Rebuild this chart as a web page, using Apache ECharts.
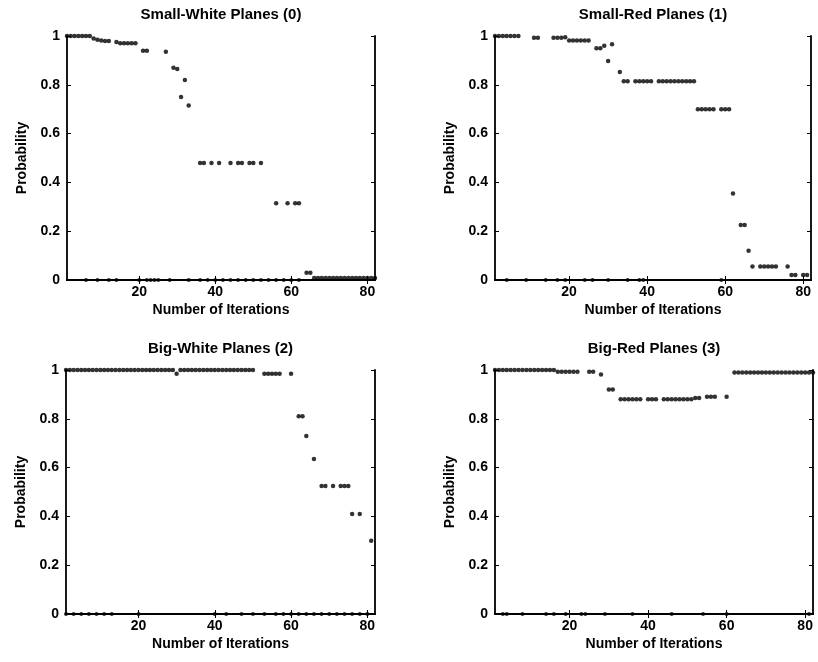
<!DOCTYPE html>
<html>
<head>
<meta charset="utf-8">
<script src="https://cdn.jsdelivr.net/npm/echarts@6/dist/echarts.min.js"></script>
<style>
  html, body { margin: 0; padding: 0; background: #fff; }
  #chart { width: 818px; height: 662px; }
</style>
</head>
<body>
<div id="chart"></div>
<script>
// panel titles
const titles = ['Small-White Planes (0)', 'Small-Red Planes (1)', 'Big-White Planes (2)', 'Big-Red Planes (3)']
const xTicks = [20, 40, 60, 80]

// Small-White (0)
const p0X = [1, 2, 3, 4, 5, 6, 7, 8, 9, 10, 11, 12, 14, 15, 16, 17, 18, 19, 21, 22, 27, 29, 30, 31, 32, 33,
  36, 37, 39, 41, 44, 46, 47, 49, 50, 52, 56, 59, 61, 62, 64, 65,
  66, 67, 68, 69, 70, 71, 72, 73, 74, 75, 76, 77, 78, 79, 80, 81, 82]
const p0Y = [1, 1, 1, 1, 1, 1, 1, 0.99, 0.985, 0.982, 0.98, 0.98, 0.975, 0.97, 0.97, 0.97, 0.97, 0.97, 0.94, 0.94, 0.935, 0.87, 0.865, 0.75, 0.82, 0.715,
  0.48, 0.48, 0.48, 0.48, 0.48, 0.48, 0.48, 0.48, 0.48, 0.48, 0.315, 0.315, 0.315, 0.315, 0.03, 0.03,
  0.008, 0.008, 0.008, 0.008, 0.008, 0.008, 0.008, 0.008, 0.008, 0.008, 0.008, 0.008, 0.008, 0.008, 0.008, 0.008, 0.008]
const p0Zero = [6, 9, 12, 14, 20, 22, 23, 24, 25, 28, 33, 36, 38, 40, 42, 44, 46, 48, 50, 52, 54, 56, 58, 60, 62]

// Small-Red (1)
const p1X = [1, 2, 3, 4, 5, 6, 7, 11, 12, 16, 17, 18, 19, 20, 21, 22, 23, 24, 25, 27, 28, 29, 30, 31, 33,
  34, 35, 37, 38, 39, 40, 41, 43, 44, 45, 46, 47, 48, 49, 50, 51, 52,
  53, 54, 55, 56, 57, 59, 60, 61, 62, 64, 65, 66, 67, 69, 70, 71, 72, 73, 76, 77, 78, 80, 81]
const p1Y = [1, 1, 1, 1, 1, 1, 1, 0.993, 0.993, 0.993, 0.993, 0.993, 0.995, 0.982, 0.982, 0.982, 0.982, 0.982, 0.982, 0.95, 0.95, 0.96, 0.898, 0.966, 0.852,
  0.815, 0.815, 0.815, 0.815, 0.815, 0.815, 0.815, 0.815, 0.815, 0.815, 0.815, 0.815, 0.815, 0.815, 0.815, 0.815, 0.815,
  0.7, 0.7, 0.7, 0.7, 0.7, 0.7, 0.7, 0.7, 0.355, 0.225, 0.225, 0.12, 0.055, 0.055, 0.055, 0.055, 0.055, 0.055, 0.055, 0.02, 0.02, 0.02, 0.02]
const p1Zero = [4, 9, 14, 17, 19, 24, 26, 30, 35, 38, 39, 59]

// Big-White (2)
const p2X = [1, 2, 3, 4, 5, 6, 7, 8, 9, 10, 11, 12, 13, 14, 15, 16, 17, 18, 19, 20, 21, 22, 23, 24, 25, 26, 27, 28, 29, 30,
  31, 32, 33, 34, 35, 36, 37, 38, 39, 40, 41, 42, 43, 44, 45, 46, 47, 48, 49, 50,
  53, 54, 55, 56, 57, 60, 62, 63, 64, 66, 68, 69, 71, 73, 74, 75, 76, 78, 81]
const p2Y = [1, 1, 1, 1, 1, 1, 1, 1, 1, 1, 1, 1, 1, 1, 1, 1, 1, 1, 1, 1, 1, 1, 1, 1, 1, 1, 1, 1, 1, 0.985,
  1, 1, 1, 1, 1, 1, 1, 1, 1, 1, 1, 1, 1, 1, 1, 1, 1, 1, 1, 1,
  0.985, 0.985, 0.985, 0.985, 0.985, 0.985, 0.81, 0.81, 0.73, 0.635, 0.525, 0.525, 0.525, 0.525, 0.525, 0.525, 0.41, 0.41, 0.3]
const p2Zero = [1, 3, 5, 7, 9, 11, 13, 20, 40, 43, 47, 50, 53, 56, 58, 60, 62, 64, 66, 68, 70, 72, 74, 76, 78, 80]

// Big-Red (3)
const p3X = [1, 2, 3, 4, 5, 6, 7, 8, 9, 10, 11, 12, 13, 14, 15, 16, 17, 18, 19, 20, 21, 22, 25, 26, 28,
  30, 31, 33, 34, 35, 36, 37, 38, 40, 41, 42, 44, 45, 46, 47, 48, 49, 50, 51, 52, 53, 55, 56, 57, 60,
  62, 63, 64, 65, 66, 67, 68, 69, 70, 71, 72, 73, 74, 75, 76, 77, 78, 79, 80, 81, 82]
const p3Y = [1, 1, 1, 1, 1, 1, 1, 1, 1, 1, 1, 1, 1, 1, 1, 1, 0.993, 0.993, 0.993, 0.993, 0.993, 0.993, 0.993, 0.993, 0.982,
  0.92, 0.92, 0.88, 0.88, 0.88, 0.88, 0.88, 0.88, 0.88, 0.88, 0.88, 0.88, 0.88, 0.88, 0.88, 0.88, 0.88, 0.88, 0.88, 0.885, 0.885, 0.89, 0.89, 0.89, 0.89,
  0.99, 0.99, 0.99, 0.99, 0.99, 0.99, 0.99, 0.99, 0.99, 0.99, 0.99, 0.99, 0.99, 0.99, 0.99, 0.99, 0.99, 0.99, 0.99, 0.99, 0.99]
const p3Zero = [3, 4, 8, 14, 16, 19, 23, 24, 29, 36, 46, 54, 60, 81]

const panelX = [p0X, p1X, p2X, p3X]
const panelY = [p0Y, p1Y, p2Y, p3Y]
const panelZero = [p0Zero, p1Zero, p2Zero, p3Zero]

const myChart = echarts.init(document.getElementById('chart'))

const font = 'Liberation Sans, Arial, sans-serif'
const grids = [
  { left: 67, top: 36, width: 308, height: 244 },
  { left: 495, top: 36, width: 316, height: 244 },
  { left: 66, top: 370, width: 309, height: 244 },
  { left: 495, top: 370, width: 318, height: 244 }
]

const lineStyle = { color: '#000', width: 1.8 }
const tickStyle = { show: true, inside: true, length: 4, lineStyle: { color: '#000', width: 1 } }
const labelStyle = { color: '#000', fontFamily: font, fontWeight: 'bold', fontSize: 14 }

const xAxis = []
const yAxis = []
const series = []
const graphic = []

grids.forEach(function (g, i) {
  // bottom + top x axes
  xAxis.push({
    gridIndex: i, type: 'value', min: 1, max: 82, position: 'bottom',
    splitLine: { show: false },
    axisLine: { show: true, lineStyle: lineStyle },
    axisTick: Object.assign({ customValues: xTicks }, tickStyle),
    axisLabel: Object.assign({ customValues: xTicks, margin: 5 }, labelStyle),
    name: 'Number of Iterations', nameLocation: 'middle', nameGap: 23,
    nameTextStyle: { color: '#000', fontFamily: font, fontWeight: 'bold', fontSize: 14 }
  })
  xAxis.push({
    gridIndex: i, type: 'value', min: 1, max: 82, position: 'top',
    splitLine: { show: false },
    axisLine: { show: true, lineStyle: lineStyle },
    axisTick: Object.assign({ customValues: xTicks }, tickStyle),
    axisLabel: { show: false }
  })
  // left + right y axes
  yAxis.push({
    gridIndex: i, type: 'value', min: 0, max: 1, interval: 0.2, position: 'left',
    splitLine: { show: false },
    axisLine: { show: true, lineStyle: lineStyle },
    axisTick: tickStyle,
    axisLabel: Object.assign({ margin: 7 }, labelStyle),
    name: 'Probability', nameLocation: 'middle', nameGap: 38,
    nameTextStyle: { color: '#000', fontFamily: font, fontWeight: 'bold', fontSize: 14 }
  })
  yAxis.push({
    gridIndex: i, type: 'value', min: 0, max: 1, interval: 0.2, position: 'right',
    splitLine: { show: false },
    axisLine: { show: true, lineStyle: lineStyle },
    axisTick: tickStyle,
    axisLabel: { show: false }
  })

  series.push({
    type: 'scatter', xAxisIndex: i * 2, yAxisIndex: i * 2,
    symbolSize: 4.5, itemStyle: { color: '#000' },
    data: panelX[i].map(function (x, k) { return [x, panelY[i][k]] })
  })
  series.push({
    type: 'scatter', xAxisIndex: i * 2, yAxisIndex: i * 2,
    symbolSize: 4, itemStyle: { color: '#000' },
    data: panelZero[i].map(function (x) { return [x, 0] })
  })

  graphic.push({
    type: 'text',
    x: g.left + g.width / 2,
    y: g.top - 21,
    style: {
      text: titles[i], fill: '#000', font: 'bold 15px ' + font,
      textAlign: 'center', textVerticalAlign: 'middle'
    }
  })
})

const option = {
  backgroundColor: '#fff',
  animation: false,
  grid: grids,
  xAxis: xAxis,
  yAxis: yAxis,
  series: series,
  graphic: graphic
}

myChart.setOption(option)
</script>
</body>
</html>
